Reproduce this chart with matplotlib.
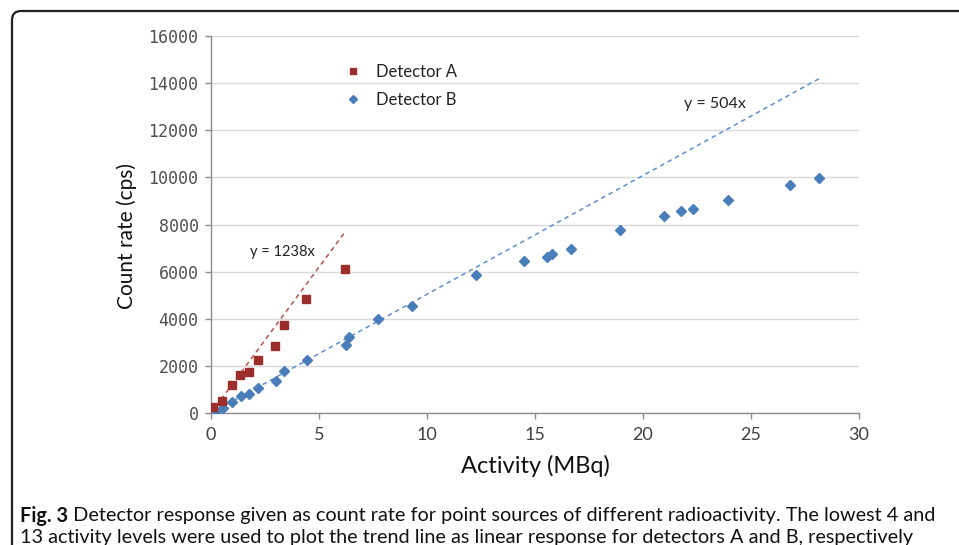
import matplotlib
matplotlib.use("Agg")
import matplotlib.pyplot as plt
from matplotlib.patches import FancyBboxPatch
from matplotlib.transforms import IdentityTransform

# ---- data ----
act_a = [0.11, 0.52, 0.96, 1.34, 1.75, 2.18, 2.96, 3.37, 4.41, 6.19]
cps_a = [267, 522, 1202, 1600, 1741, 2238, 2858, 3750, 4841, 6102]
act_b = [0.22, 0.54, 0.97, 1.37, 1.76, 2.19, 3.0, 3.39, 4.46, 6.24, 6.37, 7.73,
         9.29, 12.28, 14.48, 15.54, 15.79, 16.67, 18.95, 20.99, 21.74, 22.3,
         23.95, 26.81, 28.16]
cps_b = [100, 212, 480, 735, 807, 1048, 1359, 1797, 2264, 2874, 3240, 3992,
         4556, 5847, 6442, 6637, 6738, 6977, 7771, 8352, 8577, 8662, 9032,
         9669, 9979]
slope_a = 1238
slope_b = 504
trend_a_x = [0, 6.19]
trend_b_x = [0, 28.16]
labels = ["Detector A", "Detector B"]
eq_labels = ["y = 1238x", "y = 504x"]
xticks = [0, 5, 10, 15, 20, 25, 30]
yticks = list(range(0, 16001, 2000))

W, H = 959, 545
fig = plt.figure(figsize=(W / 100, H / 100), dpi=100)
fig.patch.set_facecolor("white")

narrow = "Lato"
calib = "Lato"

ax = fig.add_axes([211 / W, 1 - 413 / H, 648 / W, 377 / H])
ax.set_xlim(0, 30)
ax.set_ylim(0, 16000)
ax.set_xticks(xticks)
ax.set_yticks(yticks)
for s in ["top", "right"]:
    ax.spines[s].set_visible(False)
for s in ["left", "bottom"]:
    ax.spines[s].set_color("#8c8c8c")
    ax.spines[s].set_linewidth(1.0)
ax.grid(axis="y", color="#d9d9d9", linewidth=1.0)
ax.set_axisbelow(True)
ax.tick_params(axis="both", direction="out", length=4, color="#8c8c8c", width=1.0)
ax.tick_params(axis="y", pad=5)
ax.tick_params(axis="x", pad=6)
for t in ax.get_yticklabels():
    t.set_fontfamily("DejaVu Sans Mono")
    t.set_fontsize(12)
    t.set_color("#505050")
for t in ax.get_xticklabels():
    t.set_fontfamily(narrow)
    t.set_fontsize(13)
    t.set_color("#404040")

red = "#9b2d2a"
blue = "#4a7ebb"
ax.plot(trend_a_x, [v * slope_a for v in trend_a_x], linestyle=(0, (3, 2.5)),
        color="#b5524e", linewidth=1.1, zorder=2)
ax.plot(trend_b_x, [v * slope_b for v in trend_b_x], linestyle=(0, (3, 2.5)),
        color="#5b8fd0", linewidth=1.1, zorder=2)
ax.plot(act_b, cps_b, linestyle="none", marker="D", markersize=5.5,
        color=blue, markeredgecolor=blue, label=labels[1], zorder=3)
ax.plot(act_a, cps_a, linestyle="none", marker="s", markersize=5.5,
        color=red, markeredgecolor=red, label=labels[0], zorder=4)

ax.text(1.8, 6650, eq_labels[0], fontsize=10.5, family=calib, color="#222222")
ax.text(21.9, 12950, eq_labels[1], fontsize=11.5, family=calib, color="#222222")

ax.set_ylabel("Count rate (cps)", fontsize=15, family=calib, color="#111111")
ax.yaxis.set_label_coords(-0.114, 0.47)
ax.set_xlabel("Activity (MBq)", fontsize=17, family=narrow, color="#111111", labelpad=9)

h, l = ax.get_legend_handles_labels()
leg = ax.legend([h[1], h[0]], [l[1], l[0]], loc="upper left",
                bbox_to_anchor=(0.18, 0.966), frameon=False,
                prop={"family": calib, "size": 12}, handletextpad=0.8,
                labelspacing=0.75, markerscale=0.75, handlelength=1.2)
for t in leg.get_texts():
    t.set_color("#222222")

# frame box
box = FancyBboxPatch((12, -40), 1000, H - 11 + 40, boxstyle="round,pad=0,rounding_size=9",
                     transform=IdentityTransform(), facecolor="none",
                     edgecolor="#222222", linewidth=1.6, zorder=10)
fig.patches.append(box)

# caption (font size fitted to the reference line width)
cap_bold = "Fig. 3"
cap1 = " Detector response given as count rate for point sources of different radioactivity. The lowest 4 and"
cap2 = "13 activity levels were used to plot the trend line as linear response for detectors A and B, respectively"
renderer = fig.canvas.get_renderer()
target = 913
fs = 14.0
for _ in range(3):
    tb = fig.text(20 / W, 1 - 516 / H, cap_bold, fontsize=fs, family=narrow,
                  weight="bold", va="center")
    bb = tb.get_window_extent(renderer)
    t1 = fig.text(bb.x1 / W, 1 - 516 / H, cap1, fontsize=fs, family=narrow, va="center")
    width = t1.get_window_extent(renderer).x1 - 20
    tb.remove()
    t1.remove()
    fs = fs * target / width

tb = fig.text(20 / W, 1 - 516 / H, cap_bold, fontsize=fs, family=narrow,
              weight="bold", va="center", color="#111111")
bb = tb.get_window_extent(renderer)
fig.text(bb.x1 / W, 1 - 516 / H, cap1, fontsize=fs, family=narrow,
         va="center", color="#111111")
fig.text(20 / W, 1 - 538 / H, cap2, fontsize=fs, family=narrow,
         va="center", color="#111111")

fig.savefig("out.png", dpi=100, facecolor="white")
